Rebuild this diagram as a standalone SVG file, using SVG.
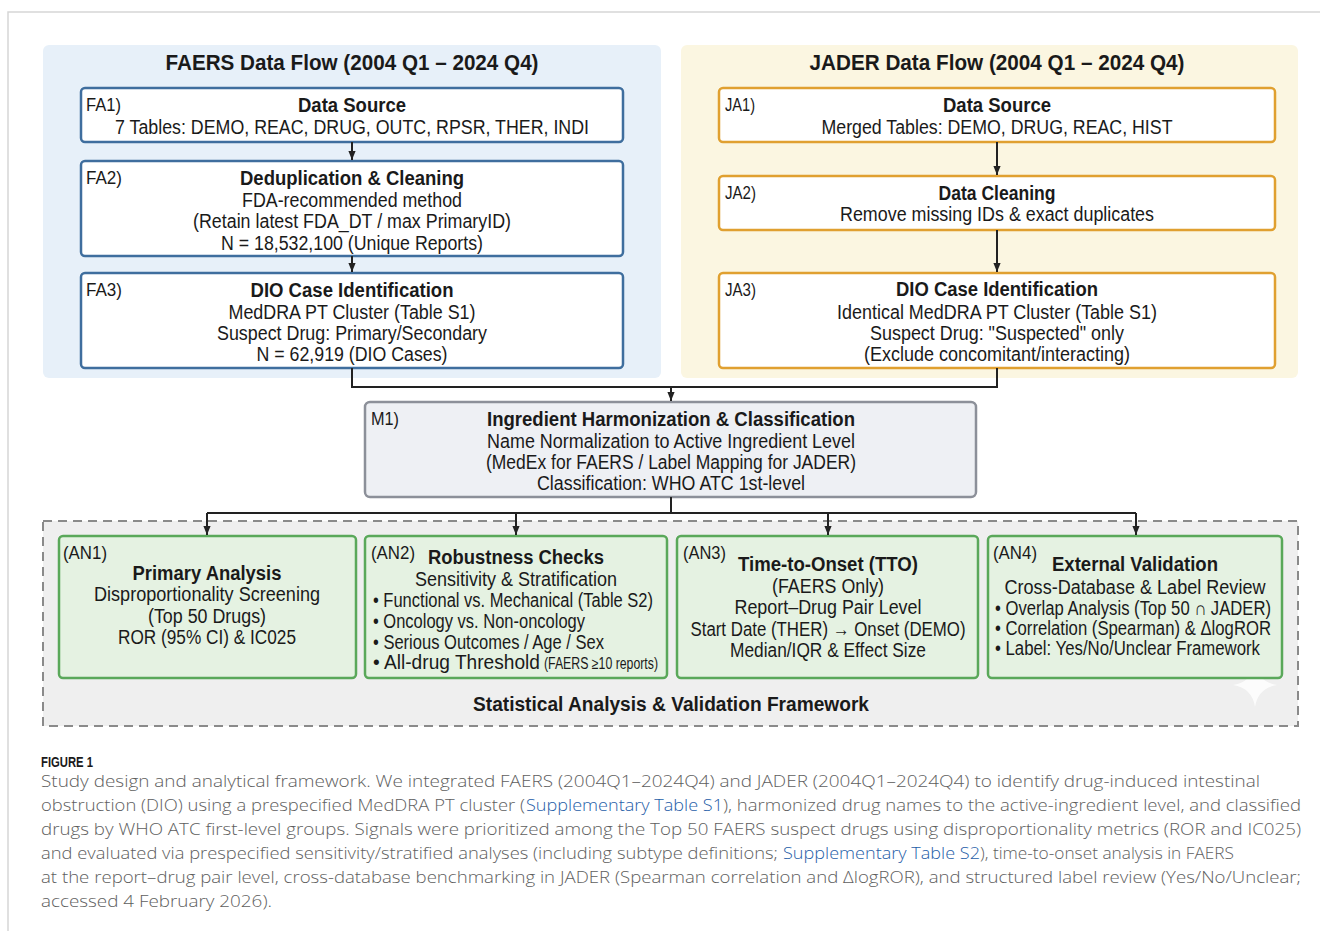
<svg xmlns="http://www.w3.org/2000/svg" width="1320" height="931" viewBox="0 0 1320 931">
<defs>
<marker id="ah" viewBox="0 0 10 10" refX="10" refY="5" markerWidth="9" markerHeight="9" markerUnits="userSpaceOnUse" orient="auto"><path d="M0,1 L10,5 L0,9 z" fill="#222"/></marker>
<style>
text{font-family:"Liberation Sans",Arial,sans-serif;fill:#1a1a1a}
.t{font-size:22px;font-weight:bold}
.h{font-size:20px;font-weight:bold;text-anchor:middle}
.b{font-size:19.5px;text-anchor:middle}
.l{font-size:18px}
.bl{font-size:19.5px}
.sm{font-size:16px}
.panelF{fill:#e7f0f9}
.panelJ{fill:#fbf6e1}
.boxF{fill:#fff;stroke:#3f6e9e;stroke-width:2.5}
.boxJ{fill:#fff;stroke:#e0a030;stroke-width:2.5}
.boxM{fill:#eef0f4;stroke:#8c9099;stroke-width:2.5}
.boxA{fill:#e5f2e2;stroke:#5aa85a;stroke-width:2.5}
.frame{fill:#efefef;stroke:#8a8a8a;stroke-width:2;stroke-dasharray:9 6}
.con{fill:none;stroke:#222;stroke-width:2}
.cap{font-family:"Open Sans","Liberation Sans",sans-serif;font-size:17px;font-weight:300;fill:#5e5e5e}
.lnk{fill:#1f5ea8}
</style>
</defs>
<rect x="0" y="0" width="1320" height="931" fill="#fff"/>
<path d="M8,931 V12 H1320" fill="none" stroke="#d6d6d6" stroke-width="1.5"/>

<g id="faers-panel">
<rect class="panelF" x="43" y="45" width="618" height="333" rx="6"/>
<text class="t" x="352" y="70" text-anchor="middle" textLength="373" lengthAdjust="spacingAndGlyphs">FAERS Data Flow (2004 Q1 – 2024 Q4)</text>
</g>
<g id="jader-panel">
<rect class="panelJ" x="681" y="45" width="617" height="333" rx="6"/>
<text class="t" x="997" y="70" text-anchor="middle" textLength="375" lengthAdjust="spacingAndGlyphs">JADER Data Flow (2004 Q1 – 2024 Q4)</text>
</g>

<g id="FA1">
<rect class="boxF" x="81" y="88" width="542" height="54" rx="4"/>
<text class="l" x="86" y="111" textLength="35" lengthAdjust="spacingAndGlyphs">FA1)</text>
<text class="h" x="352" y="112" textLength="108" lengthAdjust="spacingAndGlyphs">Data Source</text>
<text class="b" x="352" y="134" textLength="474" lengthAdjust="spacingAndGlyphs">7 Tables: DEMO, REAC, DRUG, OUTC, RPSR, THER, INDI</text>
</g>
<g id="FA2">
<rect class="boxF" x="81" y="161" width="542" height="95" rx="4"/>
<text class="l" x="86" y="184" textLength="36" lengthAdjust="spacingAndGlyphs">FA2)</text>
<text class="h" x="352" y="185" textLength="224" lengthAdjust="spacingAndGlyphs">Deduplication &amp; Cleaning</text>
<text class="b" x="352" y="207" textLength="220" lengthAdjust="spacingAndGlyphs">FDA-recommended method</text>
<text class="b" x="352" y="228" textLength="318" lengthAdjust="spacingAndGlyphs">(Retain latest FDA_DT / max PrimaryID)</text>
<text class="b" x="352" y="250" textLength="262" lengthAdjust="spacingAndGlyphs">N = 18,532,100 (Unique Reports)</text>
</g>
<g id="FA3">
<rect class="boxF" x="81" y="273" width="542" height="95" rx="4"/>
<text class="l" x="86" y="296" textLength="36" lengthAdjust="spacingAndGlyphs">FA3)</text>
<text class="h" x="352" y="297" textLength="203" lengthAdjust="spacingAndGlyphs">DIO Case Identification</text>
<text class="b" x="352" y="319" textLength="247" lengthAdjust="spacingAndGlyphs">MedDRA PT Cluster (Table S1)</text>
<text class="b" x="352" y="340" textLength="270" lengthAdjust="spacingAndGlyphs">Suspect Drug: Primary/Secondary</text>
<text class="b" x="352" y="361" textLength="191" lengthAdjust="spacingAndGlyphs">N = 62,919 (DIO Cases)</text>
</g>

<g id="JA1">
<rect class="boxJ" x="719" y="88" width="556" height="54" rx="4"/>
<text class="l" x="725" y="111" textLength="30" lengthAdjust="spacingAndGlyphs">JA1)</text>
<text class="h" x="997" y="112" textLength="108" lengthAdjust="spacingAndGlyphs">Data Source</text>
<text class="b" x="997" y="134" textLength="351" lengthAdjust="spacingAndGlyphs">Merged Tables: DEMO, DRUG, REAC, HIST</text>
</g>
<g id="JA2">
<rect class="boxJ" x="719" y="176" width="556" height="54" rx="4"/>
<text class="l" x="725" y="199" textLength="31" lengthAdjust="spacingAndGlyphs">JA2)</text>
<text class="h" x="997" y="200" textLength="117" lengthAdjust="spacingAndGlyphs">Data Cleaning</text>
<text class="b" x="997" y="221" textLength="314" lengthAdjust="spacingAndGlyphs">Remove missing IDs &amp; exact duplicates</text>
</g>
<g id="JA3">
<rect class="boxJ" x="719" y="273" width="556" height="95" rx="4"/>
<text class="l" x="725" y="296" textLength="31" lengthAdjust="spacingAndGlyphs">JA3)</text>
<text class="h" x="997" y="296" textLength="202" lengthAdjust="spacingAndGlyphs">DIO Case Identification</text>
<text class="b" x="997" y="319" textLength="320" lengthAdjust="spacingAndGlyphs">Identical MedDRA PT Cluster (Table S1)</text>
<text class="b" x="997" y="340" textLength="254" lengthAdjust="spacingAndGlyphs">Suspect Drug: "Suspected" only</text>
<text class="b" x="997" y="361" textLength="266" lengthAdjust="spacingAndGlyphs">(Exclude concomitant/interacting)</text>
</g>

<g id="M1">
<rect class="boxM" x="365" y="402" width="611" height="95" rx="5"/>
<text class="l" x="371" y="425" textLength="28" lengthAdjust="spacingAndGlyphs">M1)</text>
<text class="h" x="671" y="426" textLength="368" lengthAdjust="spacingAndGlyphs">Ingredient Harmonization &amp; Classification</text>
<text class="b" x="671" y="448" textLength="368" lengthAdjust="spacingAndGlyphs">Name Normalization to Active Ingredient Level</text>
<text class="b" x="671" y="469" textLength="370" lengthAdjust="spacingAndGlyphs">(MedEx for FAERS / Label Mapping for JADER)</text>
<text class="b" x="671" y="490" textLength="268" lengthAdjust="spacingAndGlyphs">Classification: WHO ATC 1st-level</text>
</g>

<g id="analysis-frame">
<rect class="frame" x="43" y="521" width="1255" height="205"/>
<text class="h" x="671" y="711" font-size="21" textLength="396" lengthAdjust="spacingAndGlyphs">Statistical Analysis &amp; Validation Framework</text>
<path d="M1255,663 Q1258,682 1277,685 Q1258,688 1255,707 Q1252,688 1233,685 Q1252,682 1255,663 Z" fill="#ffffff" opacity="0.8"/>
</g>

<g id="AN1">
<rect class="boxA" x="59" y="536" width="297" height="142" rx="4"/>
<text class="l" x="63" y="559" textLength="44" lengthAdjust="spacingAndGlyphs">(AN1)</text>
<text class="h" x="207" y="580" textLength="149" lengthAdjust="spacingAndGlyphs">Primary Analysis</text>
<text class="b" x="207" y="601" textLength="226" lengthAdjust="spacingAndGlyphs">Disproportionality Screening</text>
<text class="b" x="207" y="623" textLength="118" lengthAdjust="spacingAndGlyphs">(Top 50 Drugs)</text>
<text class="b" x="207" y="644" textLength="178" lengthAdjust="spacingAndGlyphs">ROR (95% CI) &amp; IC025</text>
</g>
<g id="AN2">
<rect class="boxA" x="365" y="536" width="302" height="142" rx="4"/>
<text class="l" x="371" y="559" textLength="44" lengthAdjust="spacingAndGlyphs">(AN2)</text>
<text class="h" x="516" y="564" textLength="176" lengthAdjust="spacingAndGlyphs">Robustness Checks</text>
<text class="b" x="516" y="586" textLength="202" lengthAdjust="spacingAndGlyphs">Sensitivity &amp; Stratification</text>
<text class="bl" x="373" y="607" textLength="280" lengthAdjust="spacingAndGlyphs">• Functional vs. Mechanical (Table S2)</text>
<text class="bl" x="373" y="628" textLength="212" lengthAdjust="spacingAndGlyphs">• Oncology vs. Non-oncology</text>
<text class="bl" x="373" y="649" textLength="231" lengthAdjust="spacingAndGlyphs">• Serious Outcomes / Age / Sex</text>
<text class="bl" x="373" y="669" textLength="167" lengthAdjust="spacingAndGlyphs">• All-drug Threshold</text>
<text class="sm" x="544" y="669" textLength="114" lengthAdjust="spacingAndGlyphs">(FAERS ≥10 reports)</text>
</g>
<g id="AN3">
<rect class="boxA" x="677" y="536" width="301" height="142" rx="4"/>
<text class="l" x="683" y="559" textLength="43" lengthAdjust="spacingAndGlyphs">(AN3)</text>
<text class="h" x="828" y="571" textLength="180" lengthAdjust="spacingAndGlyphs">Time-to-Onset (TTO)</text>
<text class="b" x="828" y="593" textLength="112" lengthAdjust="spacingAndGlyphs">(FAERS Only)</text>
<text class="b" x="828" y="614" textLength="187" lengthAdjust="spacingAndGlyphs">Report–Drug Pair Level</text>
<text class="b" x="828" y="636" textLength="275" lengthAdjust="spacingAndGlyphs">Start Date (THER) → Onset (DEMO)</text>
<text class="b" x="828" y="657" textLength="196" lengthAdjust="spacingAndGlyphs">Median/IQR &amp; Effect Size</text>
</g>
<g id="AN4">
<rect class="boxA" x="988" y="536" width="294" height="142" rx="4"/>
<text class="l" x="993" y="559" textLength="44" lengthAdjust="spacingAndGlyphs">(AN4)</text>
<text class="h" x="1135" y="571" textLength="166" lengthAdjust="spacingAndGlyphs">External Validation</text>
<text class="b" x="1135" y="594" textLength="261" lengthAdjust="spacingAndGlyphs">Cross-Database &amp; Label Review</text>
<text class="bl" x="995" y="615" textLength="276" lengthAdjust="spacingAndGlyphs">• Overlap Analysis (Top 50 ∩ JADER)</text>
<text class="bl" x="995" y="635" textLength="276" lengthAdjust="spacingAndGlyphs">• Correlation (Spearman) &amp; ΔlogROR</text>
<text class="bl" x="995" y="655" textLength="265" lengthAdjust="spacingAndGlyphs">• Label: Yes/No/Unclear Framework</text>
</g>

<g id="connectors">
<path class="con" d="M352,142 V160" marker-end="url(#ah)"/>
<path class="con" d="M352,256 V272" marker-end="url(#ah)"/>
<path class="con" d="M997,142 V175" marker-end="url(#ah)"/>
<path class="con" d="M997,230 V272" marker-end="url(#ah)"/>
<path class="con" d="M352,368 V387 H997 V368"/>
<path class="con" d="M671,387 V401" marker-end="url(#ah)"/>
<path class="con" d="M671,497 V513"/>
<path class="con" d="M207,513 H1136"/>
<path class="con" d="M207,513 V535" marker-end="url(#ah)"/>
<path class="con" d="M516,513 V535" marker-end="url(#ah)"/>
<path class="con" d="M828,513 V535" marker-end="url(#ah)"/>
<path class="con" d="M1136,513 V535" marker-end="url(#ah)"/>
</g>

<g id="caption">
<text x="41" y="767" font-family="Open Sans, Liberation Sans, sans-serif" font-size="14" font-weight="600" fill="#6a6a6a" textLength="52" lengthAdjust="spacingAndGlyphs">FIGURE 1</text>
<text class="cap" x="41" y="787" textLength="1219" lengthAdjust="spacingAndGlyphs">Study design and analytical framework. We integrated FAERS (2004Q1–2024Q4) and JADER (2004Q1–2024Q4) to identify drug-induced intestinal</text>
<text class="cap" x="41" y="811" textLength="484" lengthAdjust="spacingAndGlyphs">obstruction (DIO) using a prespecified MedDRA PT cluster (</text>
<text class="cap lnk" x="526" y="811" textLength="197" lengthAdjust="spacingAndGlyphs">Supplementary Table S1</text>
<text class="cap" x="723" y="811" textLength="578" lengthAdjust="spacingAndGlyphs">), harmonized drug names to the active-ingredient level, and classified</text>
<text class="cap" x="41" y="835" textLength="1260" lengthAdjust="spacingAndGlyphs">drugs by WHO ATC first-level groups. Signals were prioritized among the Top 50 FAERS suspect drugs using disproportionality metrics (ROR and IC025)</text>
<text class="cap" x="41" y="859" textLength="737" lengthAdjust="spacingAndGlyphs">and evaluated via prespecified sensitivity/stratified analyses (including subtype definitions;</text>
<text class="cap lnk" x="783" y="859" textLength="197" lengthAdjust="spacingAndGlyphs">Supplementary Table S2</text>
<text class="cap" x="980" y="859" textLength="254" lengthAdjust="spacingAndGlyphs">), time-to-onset analysis in FAERS</text>
<text class="cap" x="41" y="883" textLength="1260" lengthAdjust="spacingAndGlyphs">at the report–drug pair level, cross-database benchmarking in JADER (Spearman correlation and ΔlogROR), and structured label review (Yes/No/Unclear;</text>
<text class="cap" x="41" y="907" textLength="231" lengthAdjust="spacingAndGlyphs">accessed 4 February 2026).</text>
</g>
</svg>
